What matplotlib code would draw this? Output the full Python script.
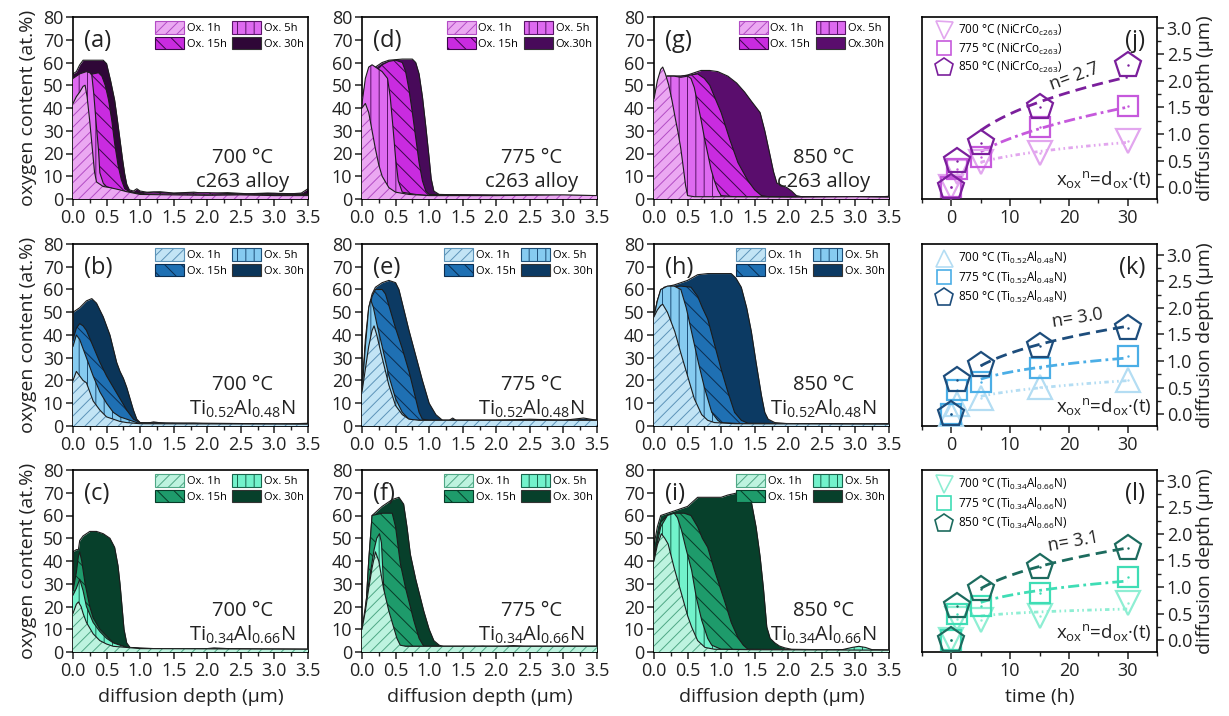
import numpy as np
import matplotlib
matplotlib.use("Agg")
import matplotlib.pyplot as plt
from matplotlib.patches import Patch
from matplotlib.lines import Line2D
from matplotlib.ticker import MultipleLocator

plt.rcParams.update({
    "font.family": ["Open Sans", "DejaVu Sans"],
    "mathtext.fontset": "custom",
    "mathtext.rm": "Open Sans",
    "mathtext.it": "Open Sans:italic",
    "mathtext.bf": "Open Sans:bold",
    "hatch.linewidth": 0.7,
    "axes.linewidth": 1.2,
    "xtick.color": "#222222",
    "ytick.color": "#222222",
})

# ---------------- oxygen depth profiles: (depth µm, O at.%) ----------------
# c263 alloy, 700 °C
a_1h = [(0, 42), (0.05, 45), (0.1, 47), (0.15, 49.5), (0.18, 50), (0.21, 45), (0.25, 34), (0.28, 24.5),
        (0.32, 12), (0.35, 7.5), (0.45, 5.5), (0.55, 5), (0.7, 4), (0.8, 3.2), (1.0, 2), (1.5, 1.8),
        (2.0, 1.6), (2.5, 1.8), (3.0, 1.5), (3.5, 1.5)]
a_5h = [(0, 53), (0.1, 55), (0.2, 56), (0.25, 55.5), (0.28, 54.5), (0.31, 46), (0.34, 35), (0.38, 21.5),
        (0.4, 11.5), (0.45, 7), (0.5, 5.4), (0.65, 4), (0.8, 3.2), (1.0, 2.2), (3.5, 2)]
a_15h = [(0, 53), (0.1, 53.5), (0.2, 54), (0.3, 55), (0.38, 55.5), (0.43, 54), (0.48, 50), (0.53, 43.5),
         (0.58, 34), (0.62, 24.5), (0.67, 15), (0.72, 8.5), (0.77, 4.5), (0.85, 3), (1.0, 2.5), (1.2, 3),
         (1.5, 2.5), (2.0, 2.8), (2.5, 2.2), (3.0, 2.5), (3.5, 2.2)]
a_30h = [(0, 55), (0.05, 56), (0.1, 59), (0.15, 61), (0.3, 61), (0.45, 61), (0.5, 59.5), (0.56, 52),
         (0.62, 43.5), (0.66, 35), (0.7, 26), (0.74, 17), (0.77, 11), (0.8, 6.5), (0.84, 4), (0.9, 3.5),
         (0.95, 4.5), (1.0, 3.5), (1.1, 3), (1.3, 3.2), (1.5, 2.6), (1.8, 3), (2.0, 2.4), (2.3, 2.8),
         (2.6, 2.3), (2.9, 2.6), (3.2, 2.2), (3.4, 2.6), (3.5, 4.5)]
# c263 alloy, 775 °C
d_1h = [(0, 40), (0.05, 42), (0.1, 38), (0.15, 30), (0.2, 22), (0.25, 15), (0.3, 10), (0.4, 5), (0.5, 3),
        (0.7, 2), (1.0, 1.5), (2.0, 1.5), (3.0, 1.8), (3.5, 1.5)]
d_5h = [(0, 42), (0.05, 53), (0.1, 58), (0.15, 59), (0.2, 58), (0.3, 56), (0.38, 53), (0.42, 45),
        (0.46, 32), (0.5, 18), (0.54, 8), (0.6, 3), (0.8, 2), (1.0, 1.5), (3.5, 1.5)]
d_15h = [(0, 45), (0.1, 52), (0.2, 56), (0.3, 59), (0.4, 60.5), (0.5, 61), (0.6, 60), (0.65, 56),
         (0.7, 48), (0.75, 38), (0.8, 27), (0.85, 16), (0.9, 8), (0.95, 3.5), (1.0, 2), (3.5, 1.5)]
d_30h = [(0, 45), (0.1, 55), (0.2, 58), (0.3, 60), (0.4, 61), (0.6, 61.5), (0.75, 61.5), (0.8, 60),
         (0.85, 55), (0.9, 45), (0.95, 32), (1.0, 18), (1.03, 9), (1.07, 3.5), (1.15, 2), (1.5, 1.8),
         (2.0, 1.5), (2.5, 1.8), (3.0, 1.5), (3.5, 1.5)]
# c263 alloy, 850 °C
g_1h = [(0, 44), (0.05, 52), (0.1, 57), (0.13, 58), (0.17, 55), (0.22, 50), (0.27, 43), (0.32, 35),
        (0.36, 29), (0.4, 22), (0.44, 13), (0.47, 6), (0.5, 1.5), (0.6, 1), (1.0, 1), (2.0, 0.8),
        (3.0, 1), (3.5, 0.8)]
g_5h = [(0, 44), (0.05, 50), (0.1, 54), (0.2, 54), (0.3, 54), (0.4, 53.5), (0.5, 54), (0.55, 53),
        (0.6, 49), (0.65, 42), (0.7, 35), (0.75, 27), (0.8, 20), (0.85, 13), (0.9, 8), (0.95, 4),
        (1.0, 1.5), (1.2, 1), (3.5, 1)]
g_15h = [(0, 44), (0.1, 52), (0.2, 54), (0.4, 54), (0.55, 54.5), (0.65, 55), (0.75, 53), (0.83, 50),
         (0.9, 45), (1.0, 38), (1.13, 26), (1.25, 16), (1.4, 8), (1.5, 4), (1.6, 1.5), (1.7, 1), (3.5, 1)]
g_30h = [(0, 44), (0.1, 52), (0.2, 54), (0.4, 54), (0.5, 54.5), (0.6, 55.5), (0.7, 56.5), (0.83, 56.5),
         (0.95, 56), (1.1, 54), (1.23, 51), (1.35, 47), (1.45, 43), (1.58, 38), (1.65, 30), (1.73, 19),
         (1.78, 12), (1.83, 7), (1.9, 6), (1.98, 5), (2.05, 3.5), (2.12, 1.5), (2.2, 1), (2.5, 0.8),
         (3.0, 1), (3.3, 0.8), (3.5, 1.2)]
# Ti0.52Al0.48N, 700 °C
b_1h = [(0, 20), (0.05, 24), (0.1, 22), (0.15, 20), (0.2, 19), (0.25, 15), (0.3, 11), (0.4, 7), (0.5, 4),
        (0.6, 3), (0.7, 2), (0.8, 1.5), (1.0, 1), (3.5, 0.8)]
b_5h = [(0, 35), (0.05, 40), (0.1, 38), (0.15, 34), (0.2, 30), (0.3, 22), (0.4, 15), (0.5, 10), (0.6, 6),
        (0.7, 4), (0.8, 3), (0.9, 2), (1.0, 1), (3.5, 0.8)]
b_15h = [(0, 38), (0.05, 43), (0.1, 45), (0.15, 44), (0.2, 42), (0.3, 35), (0.4, 28), (0.5, 22),
         (0.6, 17), (0.7, 12), (0.8, 7), (0.9, 3), (1.0, 1.5), (3.5, 0.8)]
b_30h = [(0, 50), (0.1, 52), (0.2, 55), (0.28, 56), (0.35, 54), (0.45, 48), (0.55, 40), (0.6, 34),
         (0.65, 28), (0.7, 24), (0.75, 21), (0.8, 17), (0.85, 12), (0.9, 7), (0.95, 3), (1.0, 1.5),
         (1.1, 1.2), (1.2, 1.8), (1.4, 1), (1.8, 1.2), (2.2, 0.8), (2.6, 1), (3.0, 0.7), (3.3, 1), (3.5, 1.2)]
# Ti0.52Al0.48N, 775 °C
e_1h = [(0, 15), (0.05, 25), (0.1, 35), (0.15, 42), (0.18, 44), (0.22, 40), (0.3, 30), (0.4, 18),
        (0.5, 9), (0.6, 5), (0.7, 3), (0.85, 2.5), (1.5, 2.5), (2.5, 2.5), (3.5, 2.5)]
e_5h = [(0, 15), (0.05, 35), (0.1, 52), (0.13, 55.5), (0.17, 52), (0.22, 45), (0.3, 35), (0.4, 22),
        (0.5, 12), (0.6, 6), (0.7, 3), (0.8, 2.5), (3.5, 2.5)]
e_15h = [(0, 15), (0.05, 35), (0.1, 50), (0.15, 57), (0.2, 60), (0.3, 60), (0.35, 58), (0.4, 53),
         (0.5, 43), (0.6, 34), (0.7, 24), (0.8, 12), (0.85, 6), (0.9, 3), (1.0, 2.5), (3.5, 2.5)]
e_30h = [(0, 15), (0.05, 38), (0.1, 52), (0.15, 58), (0.2, 61), (0.3, 63), (0.4, 64), (0.5, 63),
         (0.55, 60), (0.6, 54), (0.7, 42), (0.8, 31), (0.9, 20), (1.0, 10), (1.1, 5), (1.2, 2.5),
         (1.3, 2.5), (1.35, 3.5), (1.4, 2.5), (2.0, 2.5), (2.5, 3), (3.0, 2.5), (3.3, 3.5), (3.5, 2.5)]
# Ti0.52Al0.48N, 850 °C
h_1h = [(0, 48), (0.05, 51), (0.1, 53), (0.13, 53.5), (0.2, 50), (0.31, 41.5), (0.4, 32), (0.51, 21),
        (0.6, 12), (0.71, 5), (0.8, 2.5), (0.9, 1.5), (1.2, 1), (3.5, 0.8)]
h_5h = [(0, 48), (0.05, 55), (0.1, 60), (0.2, 61.5), (0.3, 61.5), (0.4, 60), (0.48, 52), (0.57, 40),
        (0.66, 28), (0.75, 17), (0.86, 6), (0.95, 2.5), (1.0, 1.5), (1.3, 1), (3.5, 0.8)]
h_15h = [(0, 48), (0.05, 55), (0.1, 60), (0.2, 61), (0.4, 61.5), (0.55, 61), (0.65, 57), (0.72, 52),
         (0.8, 47), (0.9, 36), (1.0, 25), (1.1, 15), (1.2, 6), (1.3, 2.5), (1.4, 1.2), (3.5, 0.8)]
h_30h = [(0, 48), (0.05, 55), (0.1, 59), (0.15, 61), (0.3, 62), (0.5, 64), (0.65, 66.5), (0.8, 67),
         (1.0, 67), (1.15, 67), (1.22, 65), (1.3, 61), (1.38, 52), (1.45, 41.5), (1.52, 28), (1.6, 13.5),
         (1.65, 6), (1.7, 3), (1.8, 1.5), (2.0, 1), (2.5, 1), (3.0, 0.8), (3.5, 1)]
# Ti0.34Al0.66N, 700 °C
c_1h = [(0, 17), (0.05, 21), (0.08, 22), (0.12, 20), (0.15, 17), (0.2, 13), (0.3, 8), (0.4, 5),
        (0.5, 3.5), (0.6, 2.5), (0.8, 2), (1.0, 1.5), (3.5, 1.2)]
c_5h = [(0, 25), (0.05, 28), (0.1, 32), (0.15, 27), (0.2, 20), (0.3, 13), (0.4, 9), (0.5, 6), (0.6, 4),
        (0.7, 3), (0.8, 2), (1.0, 1.5), (3.5, 1.2)]
c_15h = [(0, 27), (0.05, 35), (0.08, 42), (0.1, 44), (0.13, 40), (0.18, 30), (0.25, 20), (0.3, 15),
         (0.4, 10), (0.5, 7), (0.6, 4), (0.7, 3), (0.8, 2), (1.0, 1.5), (3.5, 1.2)]
c_30h = [(0, 44), (0.05, 45), (0.08, 45), (0.1, 49), (0.15, 51), (0.25, 53), (0.35, 53), (0.45, 52),
         (0.55, 50), (0.62, 46), (0.67, 38), (0.7, 30), (0.73, 20), (0.76, 10), (0.8, 4), (0.85, 2),
         (1.0, 1.8), (1.2, 1.5), (1.5, 1.2), (2.0, 1.5), (2.1, 1.8), (2.5, 1.2), (3.0, 1), (3.5, 1)]
# Ti0.34Al0.66N, 775 °C
f_1h = [(0, 10), (0.05, 18), (0.1, 28), (0.15, 37), (0.2, 44), (0.25, 40), (0.32, 28), (0.4, 18),
        (0.47, 11), (0.52, 6), (0.57, 3), (0.65, 2.5), (1.0, 2.5), (3.5, 2.5)]
f_5h = [(0, 10), (0.1, 30), (0.18, 45), (0.22, 50), (0.26, 52), (0.29, 48), (0.32, 30), (0.35, 17),
        (0.4, 10), (0.45, 6), (0.5, 3), (0.6, 2.5), (3.5, 2.5)]
f_15h = [(0, 10), (0.05, 15), (0.1, 40), (0.15, 60), (0.3, 61), (0.45, 61), (0.5, 55), (0.57, 39),
         (0.65, 28), (0.77, 14), (0.85, 6), (0.92, 2.5), (1.0, 2.5), (3.5, 2.5)]
f_30h = [(0, 10), (0.05, 15), (0.1, 40), (0.15, 60), (0.3, 64), (0.45, 67), (0.55, 68), (0.62, 65),
         (0.67, 55), (0.72, 43), (0.8, 32), (0.92, 18), (1.0, 10), (1.07, 5), (1.15, 3), (1.25, 2),
         (1.5, 2), (1.8, 2.5), (2.0, 2), (2.25, 2.8), (2.5, 2.2), (3.0, 2), (3.5, 2)]
# Ti0.34Al0.66N, 850 °C
i_1h = [(0, 40), (0.05, 47), (0.11, 52), (0.16, 50), (0.21, 47.5), (0.3, 37), (0.41, 25.5), (0.5, 16),
        (0.56, 11), (0.65, 5), (0.76, 2), (0.9, 1.2), (1.5, 1), (3.5, 0.8)]
i_5h = [(0, 40), (0.05, 48), (0.1, 55), (0.2, 60), (0.3, 61), (0.35, 59), (0.41, 53.5), (0.48, 45),
        (0.56, 36), (0.63, 24), (0.71, 14), (0.8, 6), (0.86, 3), (1.0, 1.2), (2.0, 1), (2.8, 1),
        (2.95, 2), (3.05, 2.5), (3.15, 2), (3.25, 1), (3.5, 0.8)]
i_15h = [(0, 40), (0.05, 50), (0.1, 57), (0.2, 60), (0.3, 61), (0.45, 61), (0.55, 60), (0.65, 55),
         (0.72, 50), (0.8, 46), (0.9, 36), (1.05, 22.5), (1.15, 13), (1.25, 6.3), (1.33, 3), (1.4, 1.2),
         (3.5, 0.8)]
i_30h = [(0, 47), (0.05, 55), (0.1, 60), (0.3, 62), (0.5, 64), (0.65, 68), (0.8, 68), (1.0, 68),
         (1.1, 69), (1.25, 70), (1.35, 69), (1.45, 66), (1.52, 55), (1.58, 42), (1.63, 28), (1.68, 11),
         (1.73, 6), (1.8, 4), (1.87, 2.6), (1.95, 1.8), (2.05, 1.2), (2.5, 1), (3.0, 1), (3.5, 0.8)]

# ---------------- oxide thickness vs time ----------------
time_h = [0, 1, 5, 15, 30]
j_700 = [0, 0.28, 0.47, 0.64, 0.87]
j_775 = [0, 0.34, 0.56, 1.13, 1.53]
j_850 = [0, 0.50, 0.83, 1.50, 2.30]
k_700 = [0, 0.20, 0.30, 0.51, 0.64]
k_775 = [0, 0.45, 0.60, 0.87, 1.10]
k_850 = [0, 0.65, 0.92, 1.29, 1.63]
l_700 = [0, 0.40, 0.38, 0.45, 0.70]
l_775 = [0, 0.50, 0.64, 0.89, 1.19]
l_850 = [0, 0.64, 0.97, 1.37, 1.73]
n_exp = [2.7, 3.0, 3.1]

ox_labels = ["Ox. 1h", "Ox. 5h", "Ox. 15h", "Ox. 30h"]
temps = ["700 °C", "775 °C", "850 °C"]
materials = ["c263 alloy", r"Ti$_\mathregular{0.52}$Al$_\mathregular{0.48}$N",
             r"Ti$_\mathregular{0.34}$Al$_\mathregular{0.66}$N"]
legend_mat = [r"(NiCrCo$_\mathregular{c263}$)", r"(Ti$_\mathregular{0.52}$Al$_\mathregular{0.48}$N)",
              r"(Ti$_\mathregular{0.34}$Al$_\mathregular{0.66}$N)"]
panel_letters = [["(a)", "(d)", "(g)", "(j)"], ["(b)", "(e)", "(h)", "(k)"], ["(c)", "(f)", "(i)", "(l)"]]

profiles = [
    [(a_1h, a_5h, a_15h, a_30h), (d_1h, d_5h, d_15h, d_30h), (g_1h, g_5h, g_15h, g_30h)],
    [(b_1h, b_5h, b_15h, b_30h), (e_1h, e_5h, e_15h, e_30h), (h_1h, h_5h, h_15h, h_30h)],
    [(c_1h, c_5h, c_15h, c_30h), (f_1h, f_5h, f_15h, f_30h), (i_1h, i_5h, i_15h, i_30h)],
]
growth = [(j_700, j_775, j_850), (k_700, k_775, k_850), (l_700, l_775, l_850)]

# face colour, hatch colour per exposure time (1h, 5h, 15h)
palettes = [
    [("#EBA8F2", "#B24CC4"), ("#DE6AF0", "#5A1468"), ("#C92BE0", "#3A0848")],
    [("#C2E4F5", "#5C93B8"), ("#86CBF0", "#1D4F78"), ("#1F70B3", "#0C2D4F")],
    [("#BDF3DF", "#4FA785"), ("#72F2CB", "#17654C"), ("#1E9B6B", "#083A28")],
]
# 30h fill per row and temperature column
colors_30h = [
    ["#2F0737", "#480A5A", "#5A0D6D"],
    ["#0B3559", "#0C3A63", "#0C3A63"],
    ["#07402B", "#07402B", "#07402B"],
]
hatches = ["///", "||", "\\\\", None]
growth_colors = [
    ["#E2A6EE", "#C659DC", "#7B1F9C"],
    ["#B4DDF3", "#4BAEE6", "#1D4D7C"],
    ["#8EEED3", "#3FDDB5", "#1C6B5E"],
]
growth_markers = [["v", "s", "p"], ["^", "s", "p"], ["v", "s", "p"]]
fit_styles = [(0, (1.6, 1.2, 0.6, 1.2, 0.6, 1.2)), (0, (4, 1.5, 1, 1.5)), (0, (4, 2.2))]

W, H = 1229, 716
fig = plt.figure(figsize=(W / 100, H / 100), dpi=100)
col_left = [73, 362, 654, 922]
row_top = [17, 244, 470]
ax_w, ax_h = 235, 182

TICK = 13


def make_axes(r, c):
    return fig.add_axes([col_left[c] / W, 1 - (row_top[r] + ax_h) / H, ax_w / W, ax_h / H])


def style_common(ax):
    ax.tick_params(which="both", direction="out", labelsize=TICK, pad=2)
    ax.tick_params(which="major", length=5, width=1.1)
    ax.tick_params(which="minor", length=3, width=1.0)
    for s in ax.spines.values():
        s.set_linewidth(1.2)


for r in range(3):
    for c in range(3):
        ax = make_axes(r, c)
        series = profiles[r][c]
        styles = list(palettes[r]) + [(colors_30h[r][c], colors_30h[r][c])]
        # back to front: 30h first, 1h last
        for k in [3, 2, 1, 0]:
            pts = np.array(series[k], dtype=float)
            face, hcol = styles[k]
            ax.fill_between(pts[:, 0], 0, pts[:, 1], facecolor=face, edgecolor=hcol,
                            hatch=hatches[k], linewidth=0, zorder=2 + (3 - k))
            ax.plot(pts[:, 0], pts[:, 1], color="#1c1c1c", lw=0.8, zorder=2.5 + (3 - k))
        ax.set_xlim(0, 3.5)
        ax.set_ylim(0, 80)
        ax.xaxis.set_major_locator(MultipleLocator(0.5))
        ax.xaxis.set_minor_locator(MultipleLocator(0.25))
        ax.yaxis.set_major_locator(MultipleLocator(10))
        ax.xaxis.set_major_formatter(matplotlib.ticker.FormatStrFormatter("%.1f"))
        style_common(ax)
        ax.tick_params(top=False, right=False)

        handles = []
        for k in [0, 2, 1, 3]:
            face, hcol = styles[k]
            lab = ox_labels[k]
            if c > 0 and r == 0 and k == 3:
                lab = "Ox.30h"
            handles.append(Patch(facecolor=face, edgecolor="#333333" if k == 3 else hcol,
                                 hatch=hatches[k], linewidth=0.8, label=lab))
        ax.legend(handles=handles, ncol=2, loc="upper right", fontsize=8, frameon=False,
                  handlelength=2.6, handleheight=1.35, columnspacing=0.5, handletextpad=0.25,
                  labelspacing=0.2, borderaxespad=0.2, borderpad=0.2)

        ax.text(0.045, 0.935, panel_letters[r][c], transform=ax.transAxes, fontsize=17,
                ha="left", va="top", color="#222222")
        ax.text(0.72, 0.225, temps[c], transform=ax.transAxes, fontsize=14.5, ha="center",
                va="center", color="#222222")
        ax.text(0.72, 0.095, materials[r], transform=ax.transAxes, fontsize=14.5, ha="center",
                va="center", color="#222222")
        if c == 0:
            ax.set_ylabel("oxygen content (at.%)", fontsize=14, labelpad=4, color="#222222")
        if r == 2:
            ax.set_xlabel("diffusion depth (µm)", fontsize=14, labelpad=6, color="#222222")

    # growth kinetics panel
    ax = make_axes(r, 3)
    t = np.array(time_h, dtype=float)
    handles = []
    for q in range(3):
        d = np.array(growth[r][q], dtype=float)
        col = growth_colors[r][q]
        m = t > 0
        if q == 2:
            n = n_exp[r]
        else:
            slope = np.polyfit(np.log(t[m]), np.log(d[m]), 1)[0]
            n = 1.0 / slope
        p = t[m] ** (1.0 / n)
        coef = np.sum(d[m] * p) / np.sum(p * p)
        tt = np.linspace(5, 30, 80)
        ax.plot(tt, coef * tt ** (1.0 / n), color=col, lw=2.0, linestyle=fit_styles[q], zorder=2)
        mk = growth_markers[r][q]
        ms = {"v": 17, "^": 17, "s": 14, "p": 19}[mk]
        ax.plot(t, d, linestyle="none", marker=mk, ms=ms, mfc="none", mec=col, mew=1.6, zorder=3)
        ax.plot(t, d, linestyle="none", marker=".", ms=1.5, color=col, zorder=3)
        handles.append(Line2D([], [], linestyle="none", marker=mk, ms=ms * 0.72, mfc="none",
                              mec=col, mew=1.2, label=f"{temps[q]} {legend_mat[r]}"))
    ax.legend(handles=handles, loc="upper left", bbox_to_anchor=(0.03, 1.0), fontsize=8.5,
              frameon=False, labelspacing=0.3, handletextpad=0.35, borderaxespad=0.3,
              borderpad=0.2, handlelength=1.6)
    ax.set_xlim(-5, 35)
    ax.set_ylim(-0.22, 3.2)
    ax.xaxis.set_major_locator(MultipleLocator(10))
    ax.xaxis.set_minor_locator(MultipleLocator(5))
    ax.yaxis.set_major_locator(MultipleLocator(0.5))
    ax.yaxis.set_minor_locator(MultipleLocator(0.25))
    ax.yaxis.set_major_formatter(matplotlib.ticker.FormatStrFormatter("%.1f"))
    ax.yaxis.tick_right()
    ax.yaxis.set_label_position("right")
    style_common(ax)
    ax.tick_params(top=False, left=False)
    ax.set_ylabel("diffusion depth (µm)", fontsize=14, labelpad=3, color="#222222")
    if r == 2:
        ax.set_xlabel("time (h)", fontsize=14, labelpad=6, color="#222222")
    ax.text(0.95, 0.935, panel_letters[r][3], transform=ax.transAxes, fontsize=17,
            ha="right", va="top", color="#222222")
    ax.text(0.975, 0.05, r"x$_\mathregular{ox}$$^\mathregular{n}$=d$_\mathregular{ox}$·(t)",
            transform=ax.transAxes, fontsize=13.5, ha="right", va="bottom", color="#222222")
    n_pos = [(21.0, 2.08, 20), (21.5, 1.8, 9), (20.8, 1.85, 10)][r]
    ax.text(n_pos[0], n_pos[1], f"n= {n_exp[r]:.1f}", fontsize=13, rotation=n_pos[2],
            ha="center", va="center", color="#222222")

fig.savefig("out.png", dpi=100)
